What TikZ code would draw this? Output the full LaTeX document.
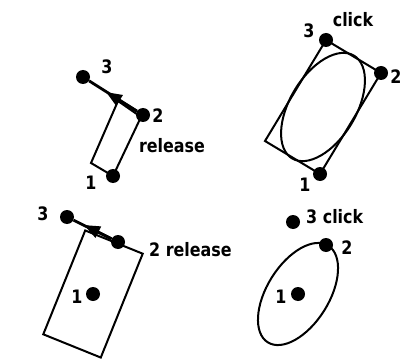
\documentclass[tikz,border=0pt]{standalone}
\usepackage{fontspec}
\setmainfont{DejaVu Sans}
\newfontfamily\lblfont[FakeStretch=0.86]{DejaVu Sans}
\usetikzlibrary{arrows.meta}
\tikzset{
  pt/.style={circle,fill=black,inner sep=0pt,minimum size=14pt},
  lbl/.style={inner sep=0pt,font=\lblfont\fontsize{18.5}{20}\selectfont\bfseries},
  edge/.style={line width=2pt,line join=miter},
  drag/.style={line width=2.8pt},
  tip/.style={-{Triangle[length=16pt,width=12pt]}}
}
\begin{document}
\begin{tikzpicture}[x=1pt,y=1pt]
\useasboundingbox (0,0) rectangle (403,359);
% ---------- top left ----------
\coordinate (a1) at (113,183);
\coordinate (a2) at (141,242);
\coordinate (a3) at (118,258);
\coordinate (a4) at (91,196);
\draw[edge] (a1) -- (a2) -- (a3) -- (a4) -- cycle;
\node[pt] (tl3) at (83,282) {};
\node[pt] (tl2) at (143,244) {};
\node[pt] (tl1) at (113,183) {};
\coordinate (tlm) at (106,267);
\draw[drag] (tl2) -- (tl3);
\draw[drag,tip] (tl2) -- (tlm);
\node[lbl] (tl3l) at (107,292) {3};
\node[lbl] (tl2l) at (158,243) {2};
\node[lbl] (tlrel) at (172,213) {release};
\node[lbl] (tl1l) at (91,176) {1};
% ---------- top right ----------
\node[pt] (tr3) at (326,319) {};
\node[pt] (tr2) at (381,286) {};
\node[pt] (tr1) at (320,185) {};
\coordinate (tr4) at (265,218);
\draw[edge] (tr3.center) -- (tr2.center) -- (tr1.center) -- (tr4) -- cycle;
\coordinate (trc) at (323,252);
\draw[edge] (trc) ellipse[x radius=60, y radius=33, rotate=58.9];
\node[lbl] (tr3l) at (309,328) {3};
\node[lbl] (trclick) at (353,339) {click};
\node[lbl] (tr2l) at (396,282) {2};
\node[lbl] (tr1l) at (305,174) {1};
% ---------- bottom left ----------
\node[pt] (bl3) at (67,142) {};
\node[pt] (bl2) at (118,117) {};
\node[pt] (bl1) at (93,65) {};
\draw[edge,rotate around={-22:(93,65)}] (62,9) rectangle (124,121);
\coordinate (blm) at (84,134);
\draw[drag] (bl2) -- (bl3);
\draw[drag,tip] (bl2) -- (blm);
\node[lbl] (bl3l) at (43,145) {3};
\node[lbl,anchor=west] (bl2l) at (149,109) {2 release};
\node[lbl] (bl1l) at (77,62) {1};
% ---------- bottom right ----------
\node[pt] (br3) at (293,137) {};
\node[pt] (br2) at (326,114) {};
\node[pt] (br1) at (298,65) {};
\draw[edge] (br1.center) ellipse[x radius=57, y radius=31, rotate=58];
\node[lbl,anchor=west] (br3l) at (306,142) {3 click};
\node[lbl] (br2l) at (347,111) {2};
\node[lbl] (br1l) at (281,62) {1};
\end{tikzpicture}
\end{document}
